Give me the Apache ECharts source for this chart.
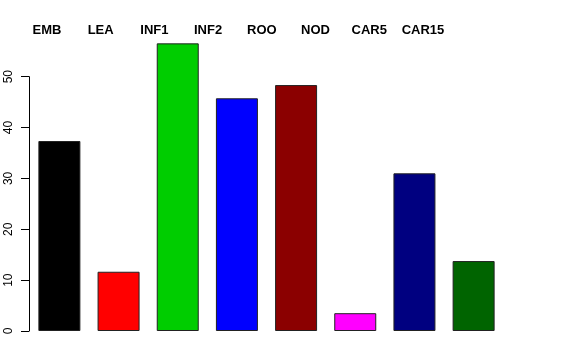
<!DOCTYPE html>
<html>
<head>
<meta charset="utf-8">
<script src="https://cdn.jsdelivr.net/npm/echarts@6/dist/echarts.min.js"></script>
<style>html,body{margin:0;padding:0;background:#fff;}#c{width:576px;height:360px;}</style>
</head>
<body>
<div id="c"></div>
<script>
const categories = ['EMB', 'LEA', 'INF1', 'INF2', 'ROO', 'NOD', 'CAR5', 'CAR15'];
const values = [37.35, 11.65, 56.55, 45.75, 48.35, 3.5, 31.0, 13.75];
const barColors = ['#000000', '#FF0000', '#00CD00', '#0000FF', '#8B0000', '#FF00FF', '#000080', '#006400'];
const yTicks = [0, 10, 20, 30, 40, 50];

const chart = echarts.init(document.getElementById('c'), null, {renderer: 'canvas'});
const font = 'Liberation Sans, Arial, Helvetica, sans-serif';
chart.setOption({
  animation: false,
  backgroundColor: '#ffffff',
  grid: [
    {left: 29, width: 10, top: 76.7, bottom: 29},
    {left: 29.8, width: 473.4, top: 25.8, bottom: 29},
    {left: 20.1, width: 429.7, top: 37, height: 1}
  ],
  xAxis: [
    {gridIndex: 0, type: 'value', show: false},
    {gridIndex: 1, type: 'category', data: categories, show: false},
    {gridIndex: 2, type: 'category', data: categories, position: 'top',
     axisLine: {show: false}, axisTick: {show: false},
     axisLabel: {interval: 0, hideOverlap: false, margin: 0, fontSize: 13, fontWeight: 'bold', color: '#000', fontFamily: font}}
  ],
  yAxis: [
    {gridIndex: 0, type: 'value', min: yTicks[0], max: yTicks[yTicks.length - 1], interval: 10,
     axisLine: {show: true, lineStyle: {color: '#000', width: 1}},
     axisTick: {show: true, length: 8, lineStyle: {color: '#000'}},
     splitLine: {show: false},
     axisLabel: {rotate: 90, margin: 14, fontSize: 12, color: '#000', fontFamily: font}},
    {gridIndex: 1, type: 'value', min: 0, max: 60, show: false, splitLine: {show: false}},
    {gridIndex: 2, type: 'value', show: false}
  ],
  series: [{
    type: 'bar',
    xAxisIndex: 1, yAxisIndex: 1,
    barWidth: 42,
    data: values.map((v, i) => ({value: v, itemStyle: {color: barColors[i]}})),
    itemStyle: {borderColor: '#222', borderWidth: 1},
    silent: true
  }]
});
</script>
</body>
</html>
